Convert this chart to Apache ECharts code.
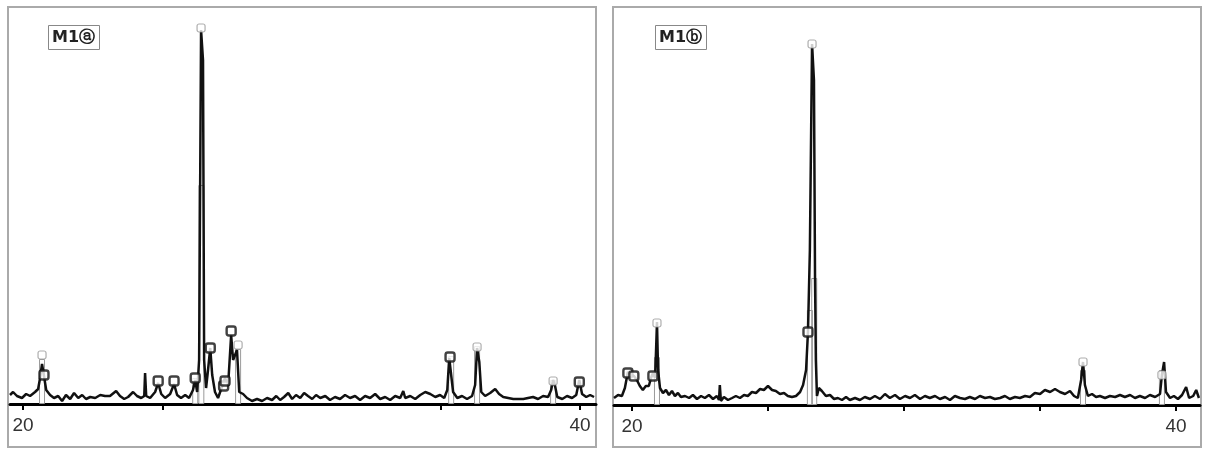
<!DOCTYPE html>
<html>
<head>
<meta charset="utf-8">
<script src="https://cdn.jsdelivr.net/npm/echarts@6/dist/echarts.min.js"></script>
<style>
  html, body { margin: 0; padding: 0; background: #fff; }
  #chart { width: 1208px; height: 455px; }
</style>
</head>
<body>
<div id="chart"></div>
<script>
// M1ⓐ 衍射曲线 (2θ, 强度)
const traceA = [
  [19.53, 9], [19.64, 12], [19.78, 8], [19.96, 6], [20.11, 10], [20.25, 8], [20.43, 12], [20.54, 15],
  [20.61, 26], [20.68, 40], [20.75, 28], [20.83, 14], [20.97, 9], [21.11, 6], [21.26, 8], [21.40, 3],
  [21.54, 9], [21.69, 5], [21.83, 11], [21.98, 6], [22.12, 9], [22.26, 5], [22.41, 7], [22.59, 6],
  [22.77, 9], [22.94, 8], [23.12, 8], [23.34, 13], [23.48, 8], [23.63, 5], [23.77, 7], [23.95, 12],
  [24.09, 8], [24.24, 6], [24.35, 8], [24.38, 31], [24.42, 8], [24.56, 6], [24.74, 12], [24.85, 21],
  [24.96, 10], [25.10, 6], [25.28, 10], [25.42, 20], [25.53, 9], [25.67, 6], [25.82, 9], [25.96, 6],
  [26.10, 14], [26.18, 24], [26.25, 12], [26.32, 44], [26.39, 374], [26.46, 344], [26.50, 44], [26.57, 16],
  [26.64, 34], [26.72, 56], [26.79, 29], [26.89, 12], [27.00, 6], [27.15, 18], [27.25, 26], [27.36, 18],
  [27.47, 69], [27.54, 44], [27.61, 42], [27.68, 54], [27.76, 12], [27.90, 10], [28.04, 6], [28.22, 3],
  [28.40, 5], [28.58, 3], [28.76, 6], [28.94, 4], [29.09, 8], [29.23, 4], [29.37, 7], [29.52, 11],
  [29.66, 5], [29.80, 9], [29.95, 6], [30.09, 11], [30.23, 8], [30.38, 5], [30.52, 9], [30.67, 6],
  [30.85, 8], [31.02, 4], [31.20, 7], [31.38, 5], [31.56, 9], [31.74, 6], [31.92, 8], [32.10, 4],
  [32.28, 8], [32.46, 6], [32.64, 10], [32.82, 5], [33.00, 7], [33.18, 4], [33.36, 8], [33.54, 6],
  [33.65, 13], [33.72, 6], [33.90, 8], [34.08, 5], [34.26, 9], [34.44, 12], [34.62, 10], [34.80, 7],
  [34.97, 9], [35.12, 6], [35.23, 14], [35.30, 46], [35.37, 44], [35.44, 12], [35.59, 6], [35.76, 8],
  [35.94, 5], [36.12, 8], [36.23, 19], [36.30, 56], [36.38, 42], [36.45, 12], [36.59, 8], [36.77, 11],
  [36.95, 15], [37.09, 10], [37.24, 7], [37.42, 6], [37.60, 5], [37.78, 5], [37.96, 5], [38.13, 6],
  [38.31, 7], [38.49, 5], [38.67, 8], [38.85, 7], [38.96, 14], [39.03, 24], [39.10, 18], [39.18, 7],
  [39.36, 5], [39.53, 8], [39.71, 6], [39.86, 9], [39.97, 24], [40.07, 10], [40.22, 7], [40.36, 9],
  [40.50, 7]
]
// M1ⓑ 衍射曲线
const traceB = [
  [19.34, 7], [19.49, 10], [19.63, 9], [19.74, 17], [19.85, 33], [19.96, 31], [20.07, 29], [20.18, 25],
  [20.29, 19], [20.40, 15], [20.51, 19], [20.62, 19], [20.70, 27], [20.77, 32], [20.85, 27], [20.88, 50],
  [20.92, 83], [20.96, 35], [21.03, 17], [21.14, 12], [21.25, 15], [21.36, 10], [21.47, 14], [21.58, 9],
  [21.69, 12], [21.80, 8], [21.95, 9], [22.10, 7], [22.24, 10], [22.39, 6], [22.54, 9], [22.68, 7],
  [22.83, 10], [22.98, 6], [23.12, 9], [23.20, 5], [23.23, 20], [23.27, 4], [23.38, 8], [23.53, 5],
  [23.68, 7], [23.82, 9], [23.97, 7], [24.12, 10], [24.26, 9], [24.41, 13], [24.56, 12], [24.71, 16],
  [24.85, 15], [25.00, 19], [25.15, 15], [25.29, 14], [25.44, 11], [25.59, 12], [25.73, 9], [25.88, 8],
  [26.03, 9], [26.18, 13], [26.29, 20], [26.40, 35], [26.47, 73], [26.54, 155], [26.62, 361], [26.69, 325],
  [26.73, 125], [26.76, 45], [26.80, 9], [26.87, 17], [26.98, 14], [27.13, 9], [27.28, 10], [27.43, 6],
  [27.57, 7], [27.72, 5], [27.87, 8], [28.01, 5], [28.20, 7], [28.38, 5], [28.56, 8], [28.75, 6],
  [28.93, 9], [29.12, 6], [29.30, 11], [29.48, 7], [29.67, 10], [29.85, 6], [30.04, 9], [30.22, 7],
  [30.40, 10], [30.59, 6], [30.77, 9], [30.95, 7], [31.14, 9], [31.32, 6], [31.51, 8], [31.69, 5],
  [31.87, 9], [32.06, 7], [32.24, 6], [32.42, 8], [32.61, 6], [32.79, 9], [32.98, 7], [33.16, 8],
  [33.34, 6], [33.53, 7], [33.71, 9], [33.89, 6], [34.08, 8], [34.26, 7], [34.45, 9], [34.63, 8],
  [34.81, 12], [35.00, 11], [35.18, 15], [35.37, 13], [35.55, 16], [35.73, 13], [35.92, 11], [36.10, 14],
  [36.25, 9], [36.39, 7], [36.51, 25], [36.58, 43], [36.65, 20], [36.76, 9], [36.91, 11], [37.06, 8],
  [37.20, 9], [37.39, 7], [37.57, 9], [37.76, 8], [37.94, 10], [38.12, 8], [38.31, 10], [38.49, 7],
  [38.67, 9], [38.86, 7], [39.04, 10], [39.23, 8], [39.41, 11], [39.48, 30], [39.56, 43], [39.63, 13],
  [39.78, 7], [39.92, 9], [40.07, 6], [40.22, 10], [40.37, 18], [40.48, 7], [40.63, 9], [40.74, 15],
  [40.84, 7]
]
// 标准卡片谱线 (灰色)
const sticksA = [[20.68, 45], [26.18, 26], [26.40, 219], [27.72, 55], [35.37, 48], [36.30, 58], [39.03, 24]]
const sticksB = [[20.92, 48], [26.54, 95], [26.70, 127], [36.58, 35], [39.48, 35]]
// 物相标记：黑色 / 灰色
const markBlackA = [[20.75, 29], [24.85, 23], [25.42, 23], [26.18, 26], [26.72, 56], [27.20, 18], [27.25, 23], [27.47, 73], [35.33, 47], [39.97, 22]]
const markGrayA = [[20.68, 49], [26.39, 376], [27.72, 59], [36.30, 57], [39.03, 23]]
const markBlackB = [[19.85, 32], [20.07, 29], [20.77, 29], [26.47, 73]]
const markGrayB = [[20.92, 82], [26.62, 361], [36.58, 43], [39.48, 30]]
const tickValues = [20, 25, 35, 40]
const tickValuesB = [20, 25, 30, 35, 40]
const labelValues = [20, 40]
const panelNames = ["M1ⓐ", "M1ⓑ"]

//坐标轴通用样式
let makeX = (idx, min, max, ticks) => ({
  type: "value",
  gridIndex: idx,
  min: min,
  max: max,
  splitLine: { show: false },
  axisLine: { show: true, onZero: false, lineStyle: { color: "#000", width: 3 } },
  axisTick: { show: true, length: 6, customValues: ticks, lineStyle: { color: "#000", width: 2 } },
  axisLabel: {
    show: true,
    customValues: labelValues,
    margin: 12,
    fontSize: 19,
    color: "#333",
    fontFamily: "Liberation Sans"
  }
})
let makeY = (idx, max) => ({
  type: "value",
  gridIndex: idx,
  min: 0,
  max: max,
  show: false
})
let traceSeries = (idx, data) => ({
  type: "line",
  xAxisIndex: idx,
  yAxisIndex: idx,
  data: data,
  symbol: "none",
  z: 3,
  lineStyle: { color: "#111", width: 2.5 }
})
let stickSeries = (idx, data) => ({
  type: "bar",
  xAxisIndex: idx,
  yAxisIndex: idx,
  data: data,
  barWidth: 6,
  z: 2,
  itemStyle: { color: "rgba(255,255,255,0)", borderColor: "#9a9a9a", borderWidth: 1 }
})
let markSeries = (idx, data, dark) => ({
  type: "scatter",
  xAxisIndex: idx,
  yAxisIndex: idx,
  data: data,
  symbol: "roundRect",
  symbolSize: dark ? 9 : 8,
  z: 4,
  itemStyle: {
    color: "#fff",
    borderColor: dark ? "#111" : "#9a9a9a",
    borderWidth: dark ? 2.4 : 1.2
  }
})

let option = {
  animation: false,
  backgroundColor: "#fff",
  title: panelNames.map((name, i) => ({
    text: name,
    left: i === 0 ? 48 : 655,
    top: 25,
    padding: [5, 5, 4, 4],
    borderColor: "#888",
    borderWidth: 1,
    textStyle: { fontSize: 16, fontWeight: "bold", color: "#222", fontFamily: "DejaVu Sans" }
  })),
  graphic: [
    { type: "rect", shape: { x: 8, y: 7, width: 588, height: 440 }, style: { fill: "none", stroke: "#aaa", lineWidth: 2 }, z: -1 },
    { type: "rect", shape: { x: 613, y: 7, width: 588, height: 440 }, style: { fill: "none", stroke: "#aaa", lineWidth: 2 }, z: -1 }
  ],
  grid: [
    { left: 10, top: 10, width: 586, height: 394 },
    { left: 614, top: 10, width: 586, height: 395 }
  ],
  xAxis: [makeX(0, 19.53, 40.57, tickValues), makeX(1, 19.34, 40.88, tickValuesB)],
  yAxis: [makeY(0, 394), makeY(1, 395)],
  series: [
    stickSeries(0, sticksA),
    traceSeries(0, traceA),
    markSeries(0, markGrayA, false),
    markSeries(0, markBlackA, true),
    stickSeries(1, sticksB),
    traceSeries(1, traceB),
    markSeries(1, markGrayB, false),
    markSeries(1, markBlackB, true)
  ]
}
const chartEl = echarts.init(document.getElementById("chart"))
chartEl.setOption(option)
</script>
</body>
</html>
